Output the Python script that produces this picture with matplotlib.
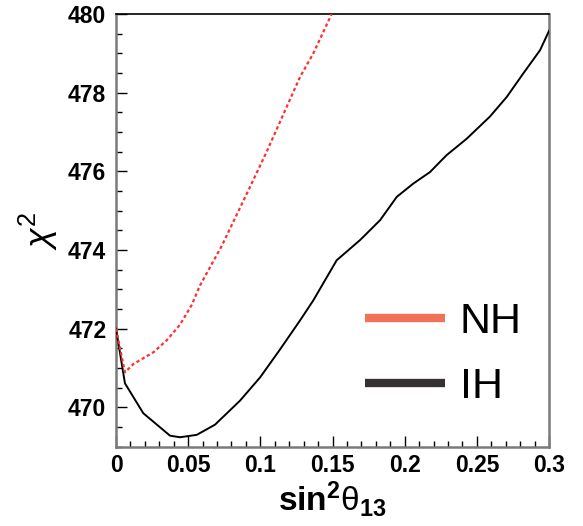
import matplotlib
matplotlib.use("Agg")
import matplotlib.pyplot as plt
from matplotlib.lines import Line2D
from matplotlib.ticker import MultipleLocator

plt.rcParams['font.family'] = ['Liberation Sans', 'DejaVu Sans']
plt.rcParams['mathtext.fontset'] = 'custom'
plt.rcParams['mathtext.rm'] = 'Liberation Sans'
plt.rcParams['mathtext.bf'] = 'Liberation Sans:bold'
plt.rcParams['mathtext.it'] = 'Liberation Sans:italic'

# Inverted hierarchy (solid black)
ih_x = [0.0, 0.0062, 0.0189, 0.0293, 0.0374, 0.0443, 0.0559, 0.0686, 0.0859,
        0.0998, 0.1136, 0.1275, 0.1367, 0.1529, 0.169, 0.183, 0.1945, 0.206,
        0.2175, 0.229, 0.243, 0.259, 0.2707, 0.2822, 0.2938, 0.3]
ih_y = [472.0, 470.61, 469.85, 469.53, 469.28, 469.24, 469.30, 469.56, 470.17,
        470.76, 471.47, 472.21, 472.72, 473.74, 474.25, 474.76, 475.35, 475.69,
        475.98, 476.41, 476.83, 477.39, 477.89, 478.49, 479.08, 479.57]

# Normal hierarchy (dotted red)
nh_x = [0.0, 0.0062, 0.012, 0.0259, 0.035, 0.0443, 0.0524, 0.0582, 0.0732,
        0.0928, 0.1044, 0.1275, 0.1367, 0.1494]
nh_y = [472.0, 470.89, 471.1, 471.4, 471.7, 472.1, 472.6, 473.1, 474.1,
        475.6, 476.5, 478.4, 479.0, 480.0]

legend_labels = ['NH', 'IH']
legend_colors = ['#F07058', '#353130']

fig = plt.figure(figsize=(5.83, 5.26), dpi=100)
ax = fig.add_axes([0.199, 0.1508, 0.7427, 0.8226])

ax.plot(ih_x, ih_y, color='black', lw=1.4, zorder=3)
ax.plot(nh_x, nh_y, color='#ff3030', lw=1.6, linestyle=(0, (1.5, 1.2)), zorder=3)

ax.set_xlim(0, 0.3)
ax.set_ylim(469, 480)
ax.xaxis.set_major_locator(MultipleLocator(0.05))
ax.xaxis.set_minor_locator(MultipleLocator(0.01))
ax.yaxis.set_major_locator(MultipleLocator(2))
ax.yaxis.set_minor_locator(MultipleLocator(0.5))
ax.set_xticks([0, 0.05, 0.1, 0.15, 0.2, 0.25, 0.3])
ax.set_xticklabels(['0', '0.05', '0.1', '0.15', '0.2', '0.25', '0.3'])
ax.tick_params(which='both', direction='in', top=False, right=False, color='black')
ax.tick_params(which='major', length=8, width=1, labelsize=16.5, pad=5)
ax.tick_params(which='minor', length=4, width=1)
ax.tick_params(axis='y', which='major', pad=7)
for lbl in ax.get_xticklabels() + ax.get_yticklabels():
    lbl.set_fontweight('bold')

for s in ['left', 'right', 'bottom']:
    ax.spines[s].set_color('#7a7a7a')
    ax.spines[s].set_linewidth(1.8)
ax.spines['top'].set_color('black')
ax.spines['top'].set_linewidth(1.2)

ax.set_xlabel(r'$\mathbf{sin}^{\mathbf{2}}\mathrm{\theta}_{\mathbf{13}}$', fontsize=24, labelpad=2)
ax.set_ylabel(r'$\chi^2$', fontsize=26, labelpad=6)

handles = [Line2D([], [], color=c, lw=6, solid_capstyle='butt') for c in legend_colors]
ax.legend(handles, legend_labels, loc='center left', bbox_to_anchor=(0.575, 0.212),
          frameon=False, fontsize=31, handlelength=1.85, handletextpad=0.35,
          labelspacing=0.58, borderpad=0, borderaxespad=0)

fig.savefig('out.png', dpi=100)
